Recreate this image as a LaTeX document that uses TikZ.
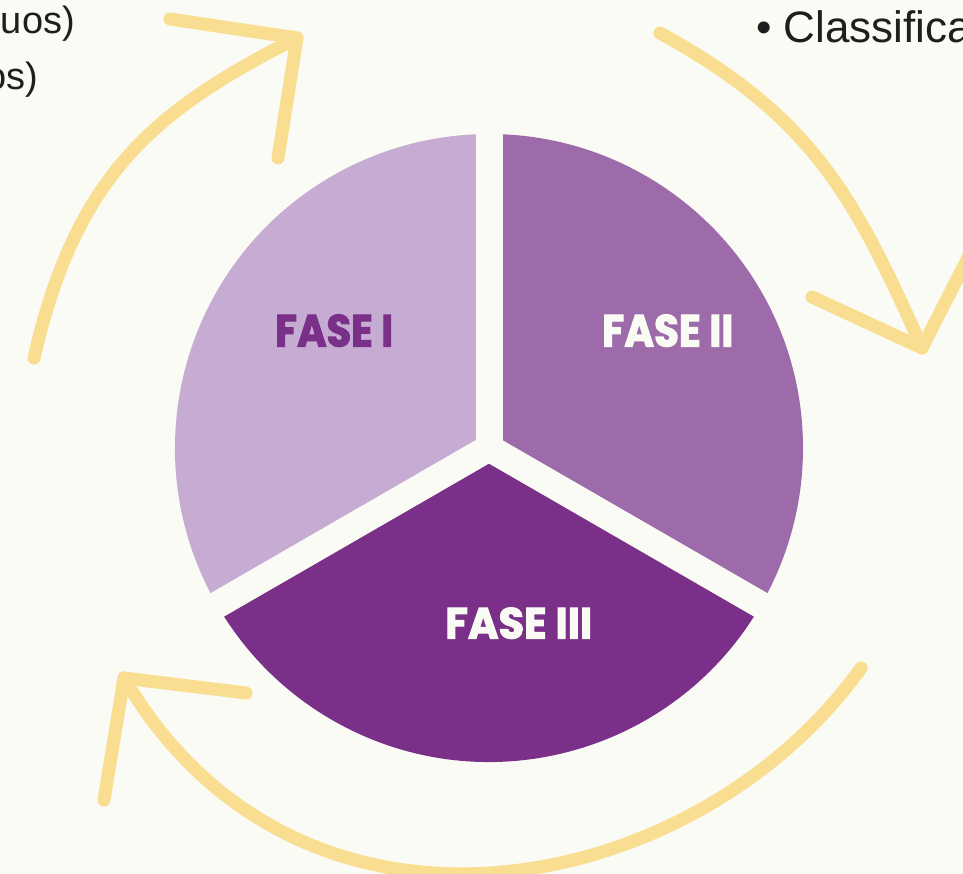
\documentclass[tikz,border=0pt]{standalone}
\usepackage{fontspec}
\usepackage{graphicx}
\setmainfont{Liberation Sans}
\newfontfamily\fasefont{Poppins}[BoldFeatures={FakeBold=2.5}]
\definecolor{bgc}{HTML}{FAFBF5}
\definecolor{yellowc}{HTML}{F9DE91}
\definecolor{lightp}{HTML}{C6ABD3}
\definecolor{midp}{HTML}{9E6BAA}
\definecolor{darkp}{HTML}{7A2F88}
\definecolor{inkc}{HTML}{1E1E1E}
\begin{document}
\begin{tikzpicture}[x=1pt,y=-1pt,
  arrowline/.style={draw=yellowc, line width=13pt, line cap=round, line join=round},
  gapline/.style={draw=bgc, line width=27pt, line cap=butt},
  fasetext/.style={inner sep=0pt, anchor=south west},
  bodytext/.style={inner sep=0pt, text=inkc}]
\clip (0,0) rectangle (963,874);
\fill[bgc] (0,0) rectangle (963,874);
\coordinate (c) at (489,448);
% sectors
\fill[lightp] (c) -- ++(150:314) arc[start angle=150,end angle=270,radius=314] -- cycle;
\fill[midp] (c) -- ++(-90:314) arc[start angle=-90,end angle=30,radius=314] -- cycle;
\fill[darkp] (c) -- ++(30:314) arc[start angle=30,end angle=150,radius=314] -- cycle;
\draw[gapline] (c) -- ++(-90:340);
\draw[gapline] (c) -- ++(150:340);
\draw[gapline] (c) -- ++(30:340);
% labels
\node[fasetext, text=darkp] (f1) at (275,347) {\resizebox{118pt}{32pt}{\fasefont\bfseries FASE I}};
\node[fasetext, text=bgc] (f2) at (602,347) {\resizebox{131pt}{32pt}{\fasefont\bfseries FASE II}};
\node[fasetext, text=bgc] (f3) at (445,639) {\resizebox{147pt}{31pt}{\fasefont\bfseries FASE III}};
% arrows
\coordinate (a1s) at (34,358);
\coordinate (a1t) at (297,38);
\coordinate (a1l) at (170,19);
\coordinate (a1r) at (278,158);
\draw[arrowline] (a1s) .. controls (76,174) and (155,110) .. (a1t);
\draw[arrowline] (a1l) -- (a1t) -- (a1r);
\coordinate (a2s) at (660,33);
\coordinate (a2t) at (922,348);
\coordinate (a2l) at (812,297);
\coordinate (a2r) at (977,240);
\draw[arrowline] (a2s) .. controls (809,115) and (853,192) .. (a2t);
\draw[arrowline] (a2l) -- (a2t) -- (a2r);
\coordinate (a3s) at (861,668);
\coordinate (a3t) at (124,678);
\coordinate (a3l) at (246,693);
\coordinate (a3r) at (104,800);
\draw[arrowline] (a3s) .. controls (695,900) and (300,978) .. (a3t);
\draw[arrowline] (a3l) -- (a3t) -- (a3r);
% cut-off texts
\node[bodytext, anchor=base east, font=\fontsize{38}{46}\selectfont] (t1) at (75,34) {uos)};
\node[bodytext, anchor=base east, font=\fontsize{38}{46}\selectfont] (t2) at (38,90) {os)};
\node[bodytext, anchor=base west, font=\fontsize{44}{52}\selectfont] (t3) at (756,43) {\textbullet\ Classifica};
\end{tikzpicture}
\end{document}
